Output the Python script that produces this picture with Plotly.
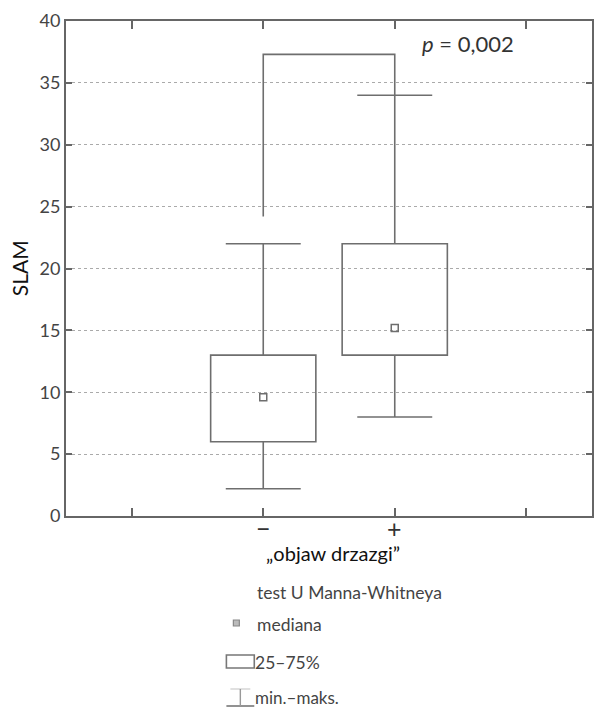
import plotly.graph_objects as go

# ---- data ----
categories = ["−", "+"]
cat_pos = [1, 2]
q1 = [6.0, 13.0]
q3 = [13.0, 22.0]
medians = [9.6, 15.2]
mins = [2.2, 8.0]
maxs = [22.0, 34.0]
bracket_top = 37.3
bracket_feet = [24.2, 34.0]
p_text = "<i>p</i> = 0,002"
y_ticks = [0, 5, 10, 15, 20, 25, 30, 35, 40]
x_tick_pos = [0, 1, 2, 3]

W, H = 595, 708
L, R, T, B = 66, 1, 21, 192
PW, PH = W - L - R, H - T - B

LINE = "#6e6e6e"
BOX_HALF = 0.4
CAP_HALF = 0.285

fig = go.Figure()
shapes = []

for x, a, b, lo, hi in zip(cat_pos, q1, q3, mins, maxs):
    shapes.append(dict(type="rect", xref="x", yref="y", x0=x - BOX_HALF, x1=x + BOX_HALF,
                       y0=a, y1=b, line=dict(color=LINE, width=1.6), fillcolor="rgba(0,0,0,0)"))
    shapes.append(dict(type="line", xref="x", yref="y", x0=x, x1=x, y0=b, y1=hi,
                       line=dict(color=LINE, width=1.6)))
    shapes.append(dict(type="line", xref="x", yref="y", x0=x, x1=x, y0=a, y1=lo,
                       line=dict(color=LINE, width=1.6)))
    shapes.append(dict(type="line", xref="x", yref="y", x0=x - CAP_HALF, x1=x + CAP_HALF,
                       y0=hi, y1=hi, line=dict(color=LINE, width=1.6)))
    shapes.append(dict(type="line", xref="x", yref="y", x0=x - CAP_HALF, x1=x + CAP_HALF,
                       y0=lo, y1=lo, line=dict(color=LINE, width=1.6)))

# significance bracket
fig.add_trace(go.Scatter(
    x=[cat_pos[0], cat_pos[0], cat_pos[1], cat_pos[1]],
    y=[bracket_feet[0], bracket_top, bracket_top, bracket_feet[1]],
    mode="lines", line=dict(color=LINE, width=1.6), hoverinfo="skip", showlegend=False))

# medians
fig.add_trace(go.Scatter(
    x=cat_pos, y=medians, mode="markers",
    marker=dict(symbol="square-open", size=7, color=LINE, line=dict(width=1.5, color=LINE)),
    showlegend=False))


def px(xp):
    return (xp - L) / PW


def py(yp):
    return (H - B - yp) / PH


# legend icons (paper coords from pixel positions)
shapes.append(dict(type="rect", xref="paper", yref="paper", x0=px(234), x1=px(240),
                   y0=py(626), y1=py(620), line=dict(color="#888", width=1.2), fillcolor="#bbb"))
shapes.append(dict(type="rect", xref="paper", yref="paper", x0=px(227), x1=px(255),
                   y0=py(668), y1=py(655), line=dict(color="#777", width=1.6), fillcolor="rgba(0,0,0,0)"))
shapes.append(dict(type="line", xref="paper", yref="paper", x0=px(227), x1=px(255),
                   y0=py(706), y1=py(706), line=dict(color="#777", width=1.6)))
shapes.append(dict(type="line", xref="paper", yref="paper", x0=px(231), x1=px(251),
                   y0=py(689), y1=py(689), line=dict(color="#ccc", width=1.2)))
shapes.append(dict(type="line", xref="paper", yref="paper", x0=px(241), x1=px(241),
                   y0=py(689), y1=py(706), line=dict(color="#999", width=1.4)))

FONT = "Lato"
annotations = [
    dict(text=p_text, xref="paper", yref="paper", x=px(421), y=py(44), xanchor="left",
         yanchor="middle", showarrow=False, font=dict(family=FONT, size=22, color="#333")),
    dict(text="SLAM", xref="paper", yref="paper", x=px(19), y=py(268), xanchor="center",
         yanchor="middle", textangle=-90, showarrow=False, font=dict(family=FONT, size=21, color="#111")),
    dict(text="„objaw drzazgi”", xref="paper", yref="paper", x=px(334), y=py(553), xanchor="center",
         yanchor="middle", showarrow=False, font=dict(family=FONT, size=20, color="#111")),
    dict(text="test U Manna-Whitneya", xref="paper", yref="paper", x=px(256), y=py(592),
         xanchor="left", yanchor="middle", showarrow=False, font=dict(family=FONT, size=17.5, color="#444")),
    dict(text="mediana", xref="paper", yref="paper", x=px(256), y=py(624),
         xanchor="left", yanchor="middle", showarrow=False, font=dict(family=FONT, size=17.5, color="#444")),
    dict(text="25–75%", xref="paper", yref="paper", x=px(254), y=py(662),
         xanchor="left", yanchor="middle", showarrow=False, font=dict(family=FONT, size=17.5, color="#444")),
    dict(text="min.–maks.", xref="paper", yref="paper", x=px(254), y=py(697),
         xanchor="left", yanchor="middle", showarrow=False, font=dict(family=FONT, size=17, color="#444")),
]
# category labels under the axis
for x, lab in zip(cat_pos, categories):
    annotations.append(dict(text=lab, xref="x", yref="paper", x=x, y=py(528), xanchor="center",
                            yanchor="middle", showarrow=False,
                            font=dict(family=FONT, size=25, color="#333")))

fig.update_layout(
    width=W, height=H,
    margin=dict(l=L, r=R, t=T, b=B),
    paper_bgcolor="white", plot_bgcolor="white",
    shapes=shapes, annotations=annotations,
    showlegend=False,
    xaxis=dict(range=[-0.5, 3.5], tickvals=x_tick_pos, showticklabels=False,
               showgrid=False, zeroline=False, showline=True, linecolor="#666", linewidth=2,
               mirror="ticks", ticks="inside", ticklen=8, tickcolor="#666", tickwidth=1.5),
    yaxis=dict(range=[0, 40], tickvals=y_ticks, showgrid=True, gridcolor="#aaa", griddash="dot",
               gridwidth=1.2, zeroline=False, showline=True, linecolor="#666", linewidth=2,
               mirror="ticks", ticks="inside", ticklen=6, tickcolor="#666", tickwidth=1.5,
               tickfont=dict(family=FONT, size=18, color="#444")),
)

fig.write_html("out.html")
